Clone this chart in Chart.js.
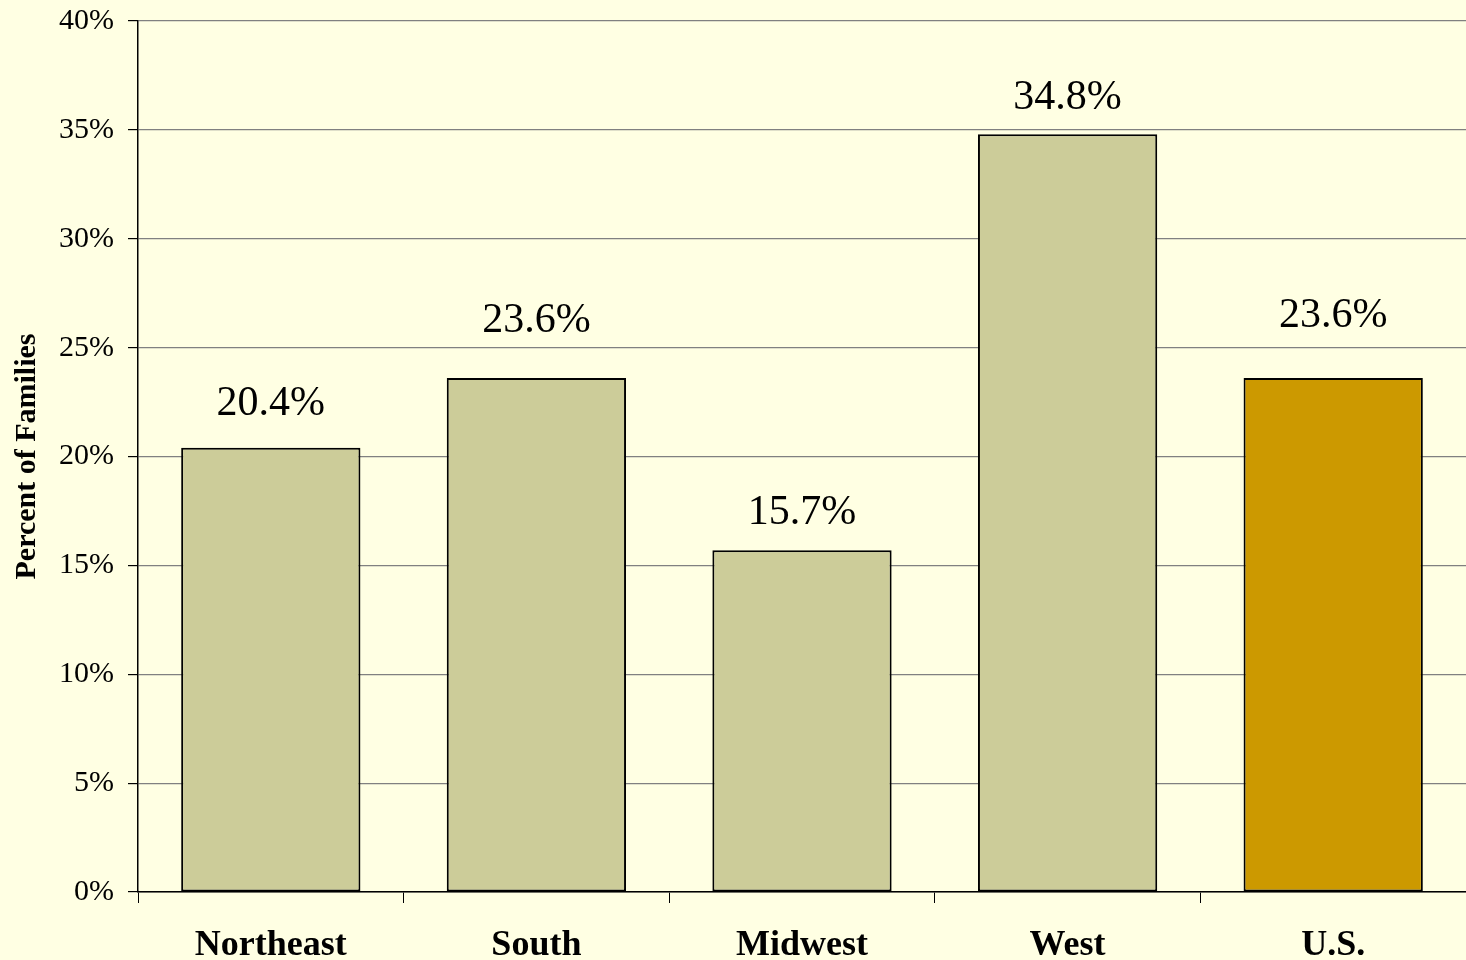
<!DOCTYPE html>
<html><head><meta charset="utf-8">
<script src="https://cdn.jsdelivr.net/npm/chart.js@4"></script>
<style>html,body{margin:0;padding:0;background:#FFFFE3;}#wrap{width:1466px;height:960px;}</style>
</head><body><div id="wrap"><canvas id="c" width="1466" height="960"></canvas></div>
<script>
const categories = ["Northeast", "South", "Midwest", "West", "U.S."];
const values = [20.4, 23.6, 15.7, 34.8, 23.6];
const barColors = ["#CCCC99", "#CCCC99", "#CCCC99", "#CCCC99", "#CC9900"];
const yTickValues = [0, 5, 10, 15, 20, 25, 30, 35, 40];
const yTitle = "Percent of Families";

const serif = "'Liberation Serif', 'Times New Roman', serif";

const bgPlugin = {
  id: 'bg',
  beforeDraw(chart) {
    const ctx = chart.ctx;
    ctx.save();
    ctx.fillStyle = '#FFFFE3';
    ctx.fillRect(0, 0, chart.width, chart.height);
    ctx.restore();
  }
};
const labelPlugin = {
  id: 'vlabels',
  afterDatasetsDraw(chart, args, opts) {
    const ctx = chart.ctx;
    const meta = chart.getDatasetMeta(0);
    ctx.save();
    ctx.font = "42px " + serif;
    ctx.fillStyle = '#000';
    ctx.textAlign = 'center';
    ctx.textBaseline = 'alphabetic';
    meta.data.forEach((bar, i) => {
      const gap = opts.gaps[i];
      ctx.fillText(values[i].toFixed(1) + '%', bar.x, bar.y - gap);
    });
    ctx.restore();
  }
};

new Chart(document.getElementById('c'), {
  type: 'bar',
  data: {
    labels: categories,
    datasets: [{
      data: values,
      backgroundColor: barColors,
      borderColor: '#000',
      borderWidth: 2,
      borderSkipped: false,
      categoryPercentage: 0.675,
      barPercentage: 1.0
    }]
  },
  options: {
    responsive: false,
    animation: false,
    devicePixelRatio: 1,
    layout: { padding: { top: 21, right: 0, left: 0, bottom: 0 } },
    plugins: {
      legend: { display: false }, tooltip: { enabled: false },
      vlabels: { gaps: [33, 46, 26, 25, 51] }
    },
    scales: {
      x: {
        grid: { display: true, drawOnChartArea: false, drawTicks: true, tickLength: 11, color: '#000', tickColor: '#000', offset: true },
        border: { display: true, color: '#000', width: 1.5 },
        ticks: { color: '#000', font: { family: serif, size: 36, weight: 'bold' }, padding: 21 },
        afterFit(s) { s.height = 68; s.paddingLeft = 0; s.paddingRight = 0; }
      },
      y: {
        min: 0, max: 40,
        afterBuildTicks(s) { s.ticks = yTickValues.map(v => ({ value: v })); },
        grid: { color: '#808080', lineWidth: 1.2, tickColor: '#000', tickLength: 10, drawTicks: true },
        border: { display: true, color: '#000', width: 1.5 },
        ticks: { color: '#000', font: { family: serif, size: 30 }, padding: 14, callback: v => v + '%' },
        title: { display: true, text: yTitle, color: '#000', font: { family: serif, size: 30, weight: 'bold' }, padding: { top: 9, bottom: 0 } },
        afterFit(s) { s.width = 138; s.paddingTop = 0; s.paddingBottom = 0; }
      }
    }
  },
  plugins: [bgPlugin, labelPlugin]
});
</script></body></html>
